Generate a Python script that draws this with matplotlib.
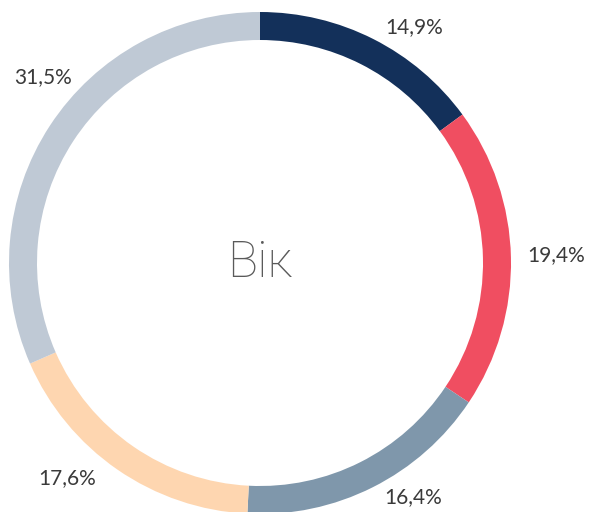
import matplotlib.pyplot as plt
import numpy as np

labels = ['14,9%', '19,4%', '16,4%', '17,6%', '31,5%']
values = [14.9, 19.4, 16.4, 17.6, 31.5]
colors = ['#13305a', '#f04e61', '#7f97ab', '#fed6b0', '#bfc9d5']
center_text = 'Вік'

W, H = 590, 512
cx, cy = 260, 263      # pie centre in pixels (from top-left)
R = 251                # outer radius in pixels
ring = 28

fig = plt.figure(figsize=(W / 100, H / 100), dpi=100)
ax = fig.add_axes([0, 0, 1, 1])

wedges, _ = ax.pie(values, colors=colors, startangle=90, counterclock=False,
                   radius=1, wedgeprops=dict(width=ring / R, linewidth=0))

# pie() resets the limits, so set them afterwards
ax.set_xlim(-cx / R, (W - cx) / R)
ax.set_ylim(-(H - cy) / R, cy / R)
ax.set_aspect('equal')
ax.axis('off')

# labels outside each slice, pulled back inside the frame
total = sum(values)
start = 0
for lab, v in zip(labels, values):
    mid = np.deg2rad((start + v / 2) / total * 360)
    start += v
    px = cx + 340 * np.sin(mid)
    py = cy - 340 * np.cos(mid)
    px = min(max(px, 43), 556)
    bottom = 497 if np.sin(mid) > 0 else 478
    py = min(max(py, 27), bottom)
    ax.text((px - cx) / R, (cy - py) / R, lab, ha='center', va='center',
            fontsize=15, color='#3a3a3a', family=['Lato', 'DejaVu Sans'])

ax.text(0, 0, center_text, ha='center', va='center', fontsize=36,
        color='#5a5a5a', fontweight='light', family=['Roboto', 'DejaVu Sans'])

fig.savefig('out.png', dpi=100, facecolor='white')
